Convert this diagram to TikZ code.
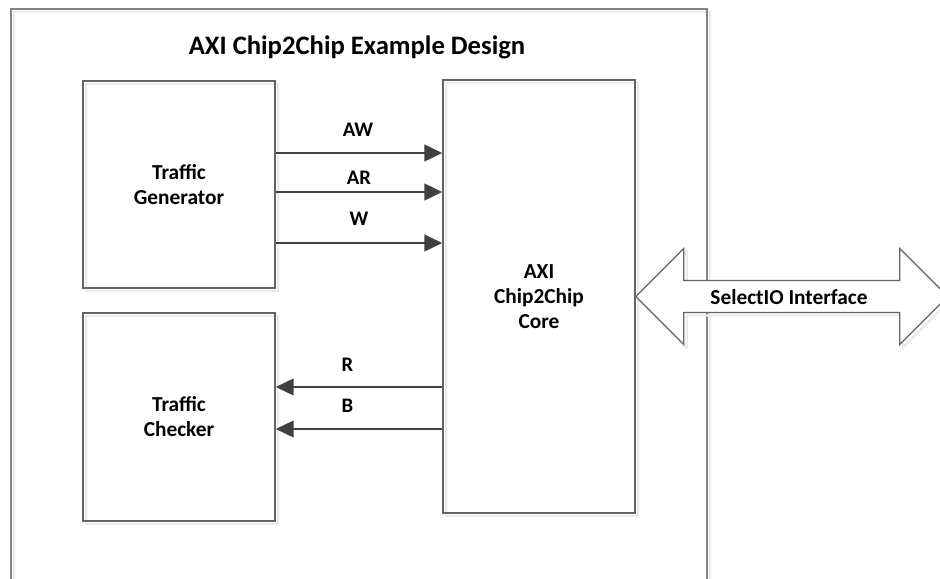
\documentclass[tikz,border=0pt]{standalone}
\usepackage{fontspec}
\setmainfont{Carlito}
\usepackage{xcolor}
\definecolor{myline}{RGB}{100,100,100}
\definecolor{myarrow}{RGB}{64,64,64}
\usetikzlibrary{arrows.meta,positioning}
\tikzset{
   myshadow/.style={preaction={draw=black!8, line width=1.6pt, fill=none,
           transform canvas={shift={(2.25pt,-2.25pt)}}}},
}
\tikzstyle{mybox} = [draw=myline, line width=1.1pt, rectangle, inner sep=0pt,
    align=center, font=\fontsize{16}{18.75}\selectfont\bfseries, myshadow]
\tikzstyle{frame} = [draw=myline!80, line width=0.9pt, myshadow]
\tikzstyle{biarrow} = [draw=myline, line width=0.9pt, fill=white, myshadow]
\tikzstyle{lab} = [inner sep=0pt, anchor=base, font=\fontsize{15.5}{18}\selectfont\bfseries]
\tikzstyle{arrow} = [draw=myarrow, line width=1.9pt, -{Triangle[length=13.5pt,width=12.5pt]}]

\begin{document}
\begin{tikzpicture}[x=0.75pt, y=-0.75pt]
\useasboundingbox (0,0) rectangle (940,579);
% outer design border, open at the bottom
\draw[frame] (11,600) |- (707,9) -- (707,600);
\node[inner sep=0pt, anchor=base, font=\fontsize{20}{24}\selectfont\bfseries] (title) at (357,54) {AXI Chip2Chip Example Design};

% blocks
\node[mybox, minimum width=144pt, minimum height=155.25pt] (gen) at (179,184.5) {Traffic\\Generator};
\node[mybox, minimum width=144pt, minimum height=156pt] (chk) at (179,417) {Traffic\\Checker};
\node[mybox, minimum width=144pt, minimum height=324.75pt] (core) at (539,296.5) {AXI\\Chip2Chip\\Core};

% channels
\draw[arrow] (gen.east |- 0,153) -- (core.west |- 0,153);
\draw[arrow] (gen.east |- 0,192) -- (core.west |- 0,192);
\draw[arrow] (gen.east |- 0,243) -- (core.west |- 0,243);
\draw[arrow] (core.west |- 0,387) -- (chk.east |- 0,387);
\draw[arrow] (core.west |- 0,429) -- (chk.east |- 0,429);
\node[lab] (aw) at (358,136) {AW};
\node[lab] (ar) at (359,184) {AR};
\node[lab] (w) at (359,225) {W};
\node[lab] (r) at (347.5,371) {R};
\node[lab] (b) at (347.5,412) {B};

% SelectIO interface
\coordinate (tip) at (core.east);
\draw[biarrow] (tip) -- ++(48,-48) -- ++(0,32) -- ++(216,0) -- ++(0,-32) -- ++(48,48)
   -- ++(-48,48) -- ++(0,-32) -- ++(-216,0) -- ++(0,32) -- cycle;
\node[inner sep=0pt, anchor=base, font=\fontsize{16}{19}\selectfont\bfseries] (sio) at (789,304) {SelectIO Interface};
\end{tikzpicture}
\end{document}
